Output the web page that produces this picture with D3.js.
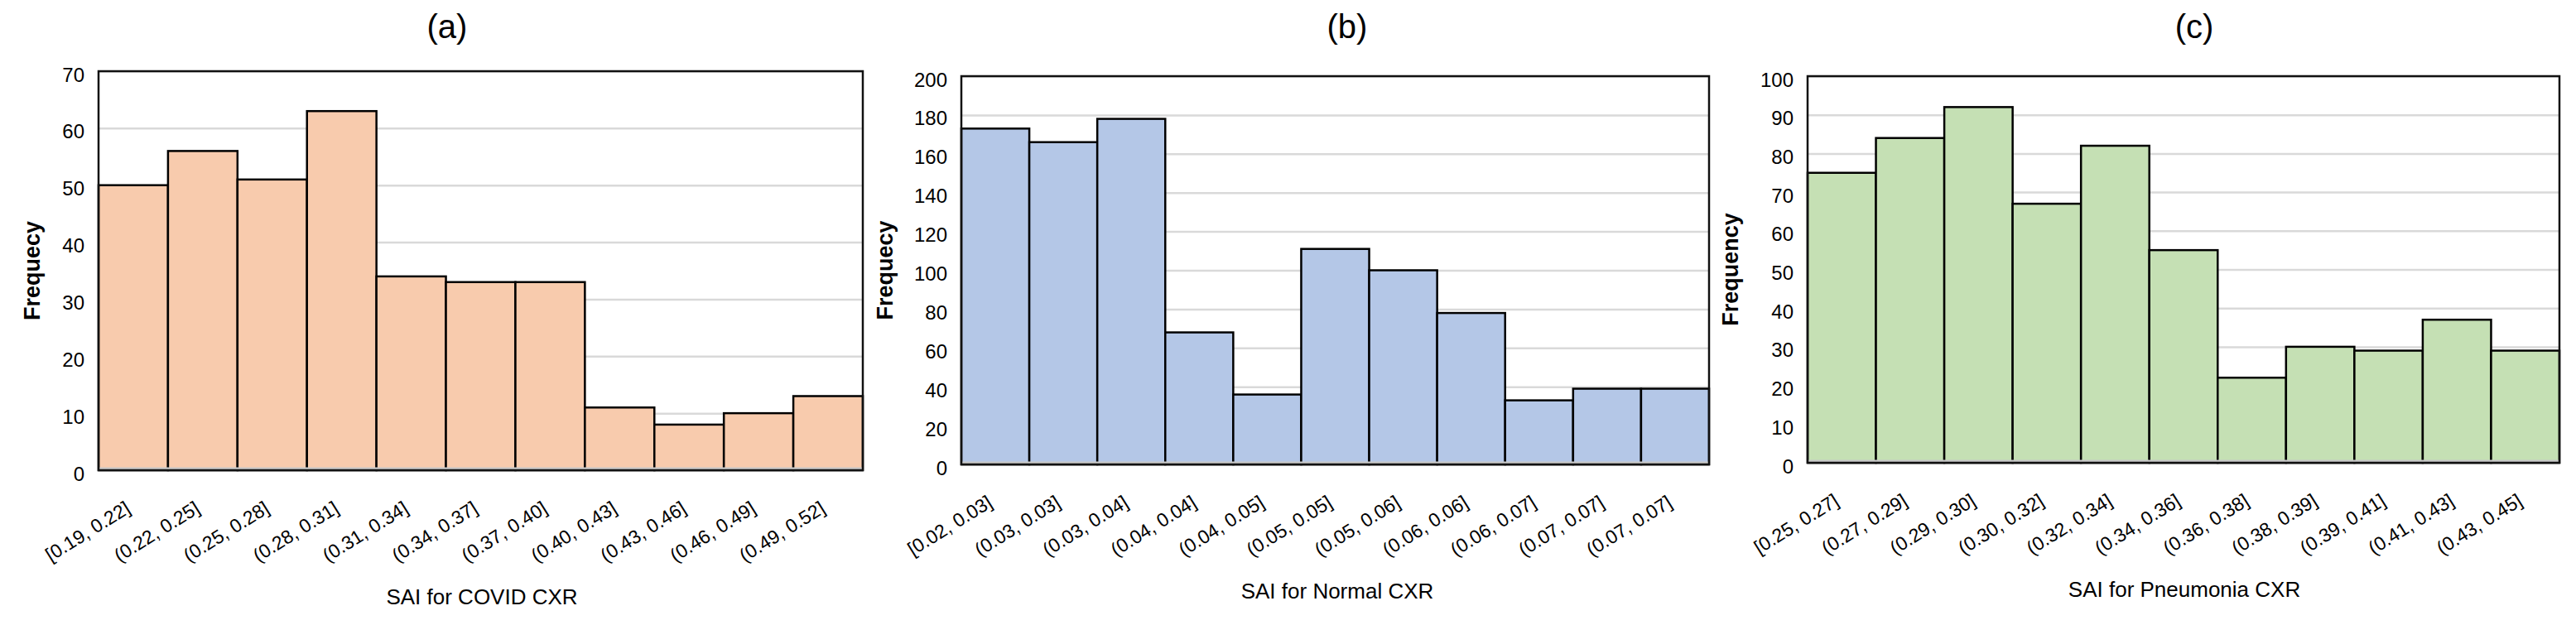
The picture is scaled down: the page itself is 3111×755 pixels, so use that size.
<!DOCTYPE html>
<html>
<head>
<meta charset="utf-8">
<script src="https://cdn.jsdelivr.net/npm/d3@7"></script>
<style>
  body { margin: 0; background: #fff; }
  svg text { font-family: "Liberation Sans", Arial, sans-serif; fill: #000; }
</style>
</head>
<body>
<div id="plotdiv"></div>
<script>
// Size of the whole figure
var outerWidth = 3111;
var outerHeight = 755;

// ---- Data ----
// (a) COVID CXR
var binsCovid = ["[0.19, 0.22]", "(0.22, 0.25]", "(0.25, 0.28]", "(0.28, 0.31]", "(0.31, 0.34]",
  "(0.34, 0.37]", "(0.37, 0.40]", "(0.40, 0.43]", "(0.43, 0.46]", "(0.46, 0.49]", "(0.49, 0.52]"];
var freqCovid = [50, 56, 51, 63, 34, 33, 33, 11, 8, 10, 13];
var ticksCovid = [0, 10, 20, 30, 40, 50, 60, 70];

// (b) Normal CXR
var binsNormal = ["[0.02, 0.03]", "(0.03, 0.03]", "(0.03, 0.04]", "(0.04, 0.04]", "(0.04, 0.05]",
  "(0.05, 0.05]", "(0.05, 0.06]", "(0.06, 0.06]", "(0.06, 0.07]", "(0.07, 0.07]", "(0.07, 0.07]"];
var freqNormal = [173, 166, 178, 68, 36, 111, 100, 78, 33, 39, 39];
var ticksNormal = [0, 20, 40, 60, 80, 100, 120, 140, 160, 180, 200];

// (c) Pneumonia CXR
var binsPneu = ["[0.25, 0.27]", "(0.27, 0.29]", "(0.29, 0.30]", "(0.30, 0.32]", "(0.32, 0.34]",
  "(0.34, 0.36]", "(0.36, 0.38]", "(0.38, 0.39]", "(0.39, 0.41]", "(0.41, 0.43]", "(0.43, 0.45]"];
var freqPneu = [75, 84, 92, 67, 82, 55, 22, 30, 29, 37, 29];
var ticksPneu = [0, 10, 20, 30, 40, 50, 60, 70, 80, 90, 100];

// ---- Layout of each panel (pixels) ----
var panels = [
  { bins: binsCovid, freq: freqCovid, ticks: ticksCovid, fill: "#f8cbad",
    title: "(a)", xTitle: "SAI for COVID CXR", yTitle: "Frequecy",
    left: 119, right: 1042, top: 86, bottom: 568, titleX: 540, yTitleX: 48, xTitleX: 582 },
  { bins: binsNormal, freq: freqNormal, ticks: ticksNormal, fill: "#b4c7e7",
    title: "(b)", xTitle: "SAI for Normal CXR", yTitle: "Frequecy",
    left: 1161, right: 2064, top: 92, bottom: 561, titleX: 1627, yTitleX: 1078, xTitleX: 1615 },
  { bins: binsPneu, freq: freqPneu, ticks: ticksPneu, fill: "#c5e0b4",
    title: "(c)", xTitle: "SAI for Pneumonia CXR", yTitle: "Frequency",
    left: 2183, right: 3091, top: 92, bottom: 559, titleX: 2650, yTitleX: 2099, xTitleX: 2638 }
];

var vis = d3.select("#plotdiv").append("svg")
  .attr("width", outerWidth)
  .attr("height", outerHeight);

panels.forEach(function (p) {
  var g = vis.append("g");
  var w = p.right - p.left;

  var xScale = d3.scaleBand()
    .domain(d3.range(p.bins.length))
    .range([p.left, p.right])
    .padding(0);
  var yScale = d3.scaleLinear()
    .domain([0, p.ticks[p.ticks.length - 1]])
    .range([p.bottom, p.top]);

  // Horizontal gridlines
  var grid = g.append("g")
    .attr("transform", "translate(" + p.left + ",0)")
    .call(d3.axisLeft(yScale).tickValues(p.ticks).tickSize(-w).tickFormat(""));
  grid.select(".domain").remove();
  grid.selectAll("line").attr("stroke", "#d9d9d9").attr("stroke-width", 2.5);

  // Bars
  g.selectAll("rect.bar").data(p.freq).enter().append("rect")
    .attr("class", "bar")
    .attr("x", function (d, i) { return xScale(i); })
    .attr("y", function (d) { return yScale(d); })
    .attr("width", xScale.bandwidth())
    .attr("height", function (d) { return p.bottom - yScale(d); })
    .attr("fill", p.fill)
    .attr("stroke", "#000")
    .attr("stroke-width", 2.5);

  // Zero line (grey band) and frame
  g.append("line")
    .attr("x1", p.left).attr("x2", p.right)
    .attr("y1", p.bottom - 2).attr("y2", p.bottom - 2)
    .attr("stroke", "#c8c8c8").attr("stroke-width", 3);
  g.append("rect")
    .attr("x", p.left).attr("y", p.top)
    .attr("width", w).attr("height", p.bottom - p.top)
    .attr("fill", "none").attr("stroke", "#111").attr("stroke-width", 2.5);

  // Y axis tick labels
  var gy = g.append("g")
    .attr("transform", "translate(" + p.left + ",0)")
    .call(d3.axisLeft(yScale).tickValues(p.ticks).tickSize(0).tickPadding(17));
  gy.select(".domain").remove();
  gy.selectAll("text").attr("font-size", 24).attr("dy", "0.5em");

  // X axis tick labels, rotated
  var gx = g.append("g")
    .attr("transform", "translate(0," + p.bottom + ")")
    .call(d3.axisBottom(xScale).tickSize(0).tickFormat(function (i) { return p.bins[i]; }));
  gx.select(".domain").remove();
  gx.selectAll("text")
    .attr("font-size", 23)
    .attr("y", 0).attr("dy", 0)
    .attr("text-anchor", "end")
    .attr("transform", "translate(-2,50) rotate(-32)");

  // Panel title
  g.append("text")
    .attr("x", p.titleX).attr("y", 46)
    .attr("text-anchor", "middle")
    .attr("font-size", 40)
    .text(p.title);

  // Axis titles
  g.append("text")
    .attr("x", p.xTitleX).attr("y", p.bottom + 162)
    .attr("text-anchor", "middle")
    .attr("font-size", 26)
    .text(p.xTitle);

  g.append("text")
    .attr("transform", "translate(" + p.yTitleX + "," + (p.top + p.bottom) / 2 + ") rotate(-90)")
    .attr("text-anchor", "middle")
    .attr("font-size", 27)
    .attr("font-weight", "bold")
    .text(p.yTitle);
});
</script>
</body>
</html>
